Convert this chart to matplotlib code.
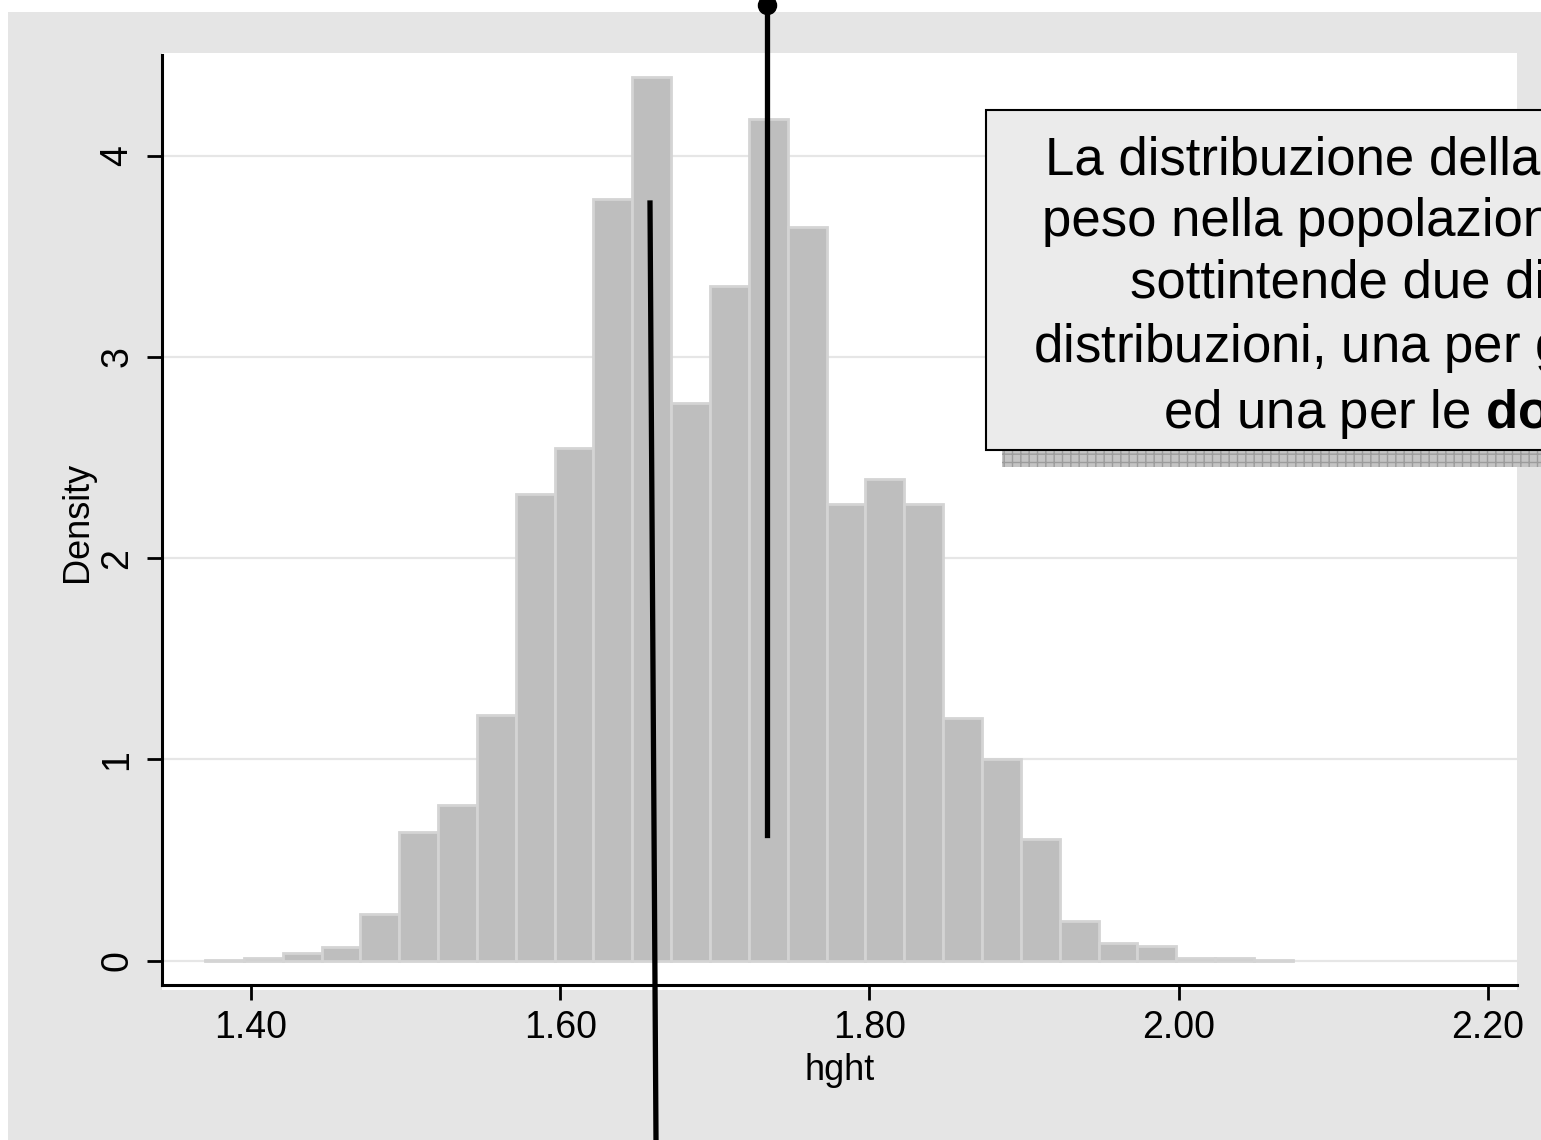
import matplotlib
matplotlib.use("Agg")
import matplotlib.pyplot as plt
from matplotlib.patches import Rectangle
from matplotlib.lines import Line2D

plt.rcParams['font.family'] = ['Liberation Sans', 'DejaVu Sans']
plt.rcParams['mathtext.fontset'] = 'custom'
plt.rcParams['mathtext.rm'] = 'Liberation Sans'
plt.rcParams['mathtext.bf'] = 'Liberation Sans:bold'

# histogram of hght (density scale)
bin_start = 1.3702
bin_width = 0.02513
density = [0.005, 0.015, 0.04, 0.07, 0.23, 0.64, 0.775, 1.22, 2.32, 2.545,
           3.785, 4.39, 2.77, 3.35, 4.18, 3.645, 2.27, 2.395, 2.27, 1.205,
           1.0, 0.605, 0.195, 0.09, 0.075, 0.015, 0.015, 0.005]
x_ticks = [1.40, 1.60, 1.80, 2.00, 2.20]
x_tick_labels = ["1.40", "1.60", "1.80", "2.00", "2.20"]
y_ticks = [0, 1, 2, 3, 4]
note_lines = ["La distribuzione della statura e",
              "peso nella popolazione italiana",
              "sottintende due diverse",
              r"distribuzioni, una per gli $\mathbf{uomini}$",
              r"ed una per le $\mathbf{donne}$"]

W, H = 1541, 1140
fig = plt.figure(figsize=(W / 100, H / 100), dpi=100)
fig.patch.set_facecolor('white')
fig.add_artist(Rectangle((8 / W, 0), 1, 1 - 12 / H, transform=fig.transFigure,
                         facecolor='#e5e5e5', edgecolor='none', zorder=-2))

ax = fig.add_axes([162 / W, 1 - 990 / H, (1517 - 162) / W, (990 - 53) / H])
ax.set_facecolor('white')

lefts = [bin_start + i * bin_width for i in range(len(density))]
ax.bar(lefts, density, width=bin_width, align='edge', color='#bebebe',
       edgecolor='#d4d4d4', linewidth=2)

ax.set_xlim(1.3424, 2.2189)
ax.set_ylim(-0.1456, 4.51)
ax.set_axisbelow(True)
ax.yaxis.grid(True, color='#e6e6e6', linewidth=1.6)

for s in ['top', 'right']:
    ax.spines[s].set_visible(False)
ax.spines['bottom'].set_position(('data', -0.121))
ax.spines['left'].set_bounds(-0.121, 4.50)
ax.spines['left'].set_linewidth(2.2)
ax.spines['bottom'].set_linewidth(2.2)

ax.set_xticks(x_ticks)
ax.set_xticklabels(x_tick_labels)
ax.set_yticks(y_ticks)
ax.tick_params(axis='x', length=11, width=2, pad=7, labelsize=27)
ax.tick_params(axis='y', length=11, width=2, pad=8, labelsize=27, labelrotation=90)
for lab in ax.get_yticklabels():
    lab.set_va('center')

ax.set_xlabel('hght', fontsize=26, labelpad=5)
ax.set_ylabel('Density', fontsize=26, labelpad=3)

# annotation lines
fig.add_artist(Line2D([767 / W, 767 / W], [1 - 5 / H, 1 - 835 / H], transform=fig.transFigure,
                      color='black', lw=3.8, marker='o', markersize=13, markevery=[0], zorder=5))
fig.add_artist(Line2D([650 / W, 656 / W], [1 - 203 / H, 0], transform=fig.transFigure,
                      color='black', lw=3.8, zorder=5))

# note box with shadow
fig.add_artist(Rectangle((1002 / W, 1 - 467 / H), 0.6, 340 / H, transform=fig.transFigure,
                         facecolor='#c4c4c4', edgecolor='#9c9c9c', hatch='++', lw=0, zorder=3))
fig.add_artist(Rectangle((986 / W, 1 - 450 / H), 0.6, 340 / H, transform=fig.transFigure,
                         facecolor='#ebebeb', edgecolor='black', lw=1.5, zorder=4))
fig.text(1403 / W, 1 - 428 / H, "\n".join(note_lines), ha='center', va='baseline',
         multialignment='center', fontsize=38, linespacing=1.3, zorder=6)

fig.savefig('out.png', dpi=100)
